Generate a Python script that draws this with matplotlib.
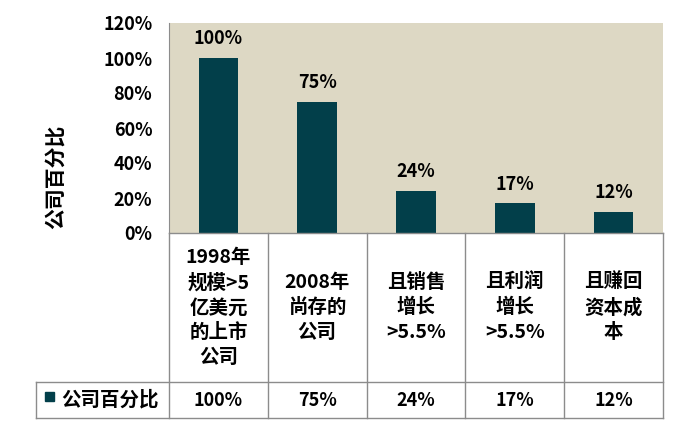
import matplotlib
matplotlib.use("Agg")
import matplotlib.pyplot as plt
import matplotlib.transforms as mtransforms
from matplotlib.patches import Rectangle

plt.rcParams['font.family'] = ['Noto Sans CJK SC', 'DejaVu Sans']
plt.rcParams['font.weight'] = 'bold'

# data
categories = ['1998年\n规模>5\n亿美元\n的上市\n公司', '2008年\n尚存的\n公司',
              '且销售\n增长\n>5.5%', '且利润\n增长\n>5.5%', '且赚回\n资本成\n本']
values = [100, 75, 24, 17, 12]
series_name = '公司百分比'
yticks = [0, 20, 40, 60, 80, 100, 120]

bar_color = '#023f4a'
bg_color = '#ddd8c4'
line_color = '#8c8c8c'

W, H = 687, 430
fig = plt.figure(figsize=(W / 100, H / 100), dpi=100)

def fy(py):
    # pixel row (from top) -> figure fraction
    return 1 - py / H

ax_left, ax_right = 169 / W, 663 / W
ax_top, ax_bot = fy(23), fy(233)
ax = fig.add_axes([ax_left, ax_bot, ax_right - ax_left, ax_top - ax_bot])
ax.set_facecolor(bg_color)

x = list(range(len(values)))
ax.bar(x, values, width=0.4, color=bar_color)
for xi, v in zip(x, values):
    ax.annotate(f'{v}%', (xi, v), xytext=(0, 7), textcoords='offset points',
                ha='center', va='bottom', fontsize=13, fontweight='bold')

ax.set_xlim(-0.5, len(values) - 0.5)
ax.set_ylim(0, 120)
ax.set_yticks(yticks)
ax.set_yticklabels([f'{t}%' for t in yticks], fontsize=13, fontweight='bold')
ax.tick_params(axis='y', length=0, pad=12)
ax.set_xticks([])
for s in ['top', 'right', 'bottom']:
    ax.spines[s].set_visible(False)
ax.spines['left'].set_color(line_color)

fig.text(55 / W, fy(177), series_name, rotation=90, ha='center', va='center',
         fontsize=15, fontweight='bold')

# data table below the plot
tr = mtransforms.blended_transform_factory(ax.transData, fig.transFigure)
row1_top, row1_bot, row2_bot = fy(233), fy(382), fy(418)
n = len(values)
lw = 1.0
# horizontal lines across category columns
fig.add_artist(plt.Line2D([-0.5, n - 0.5], [row1_top, row1_top], transform=tr,
                          color=line_color, lw=lw))
fig.add_artist(plt.Line2D([36 / W, ax_right], [row1_bot, row1_bot],
                          transform=fig.transFigure, color=line_color, lw=lw))
fig.add_artist(plt.Line2D([36 / W, ax_right], [row2_bot, row2_bot],
                          transform=fig.transFigure, color=line_color, lw=lw))
fig.add_artist(plt.Line2D([36 / W, 36 / W], [row1_bot, row2_bot],
                          transform=fig.transFigure, color=line_color, lw=lw))
for i in range(n + 1):
    fig.add_artist(plt.Line2D([i - 0.5, i - 0.5], [row1_top, row2_bot],
                              transform=tr, color=line_color, lw=lw))

for xi, c, v in zip(x, categories, values):
    fig.text(xi, (row1_top + row1_bot) / 2, c, transform=tr, ha='center',
             va='center', fontsize=14, fontweight='bold', linespacing=1.38)
    fig.text(xi, (row1_bot + row2_bot) / 2, f'{v}%', transform=tr, ha='center',
             va='center', fontsize=13, fontweight='bold')

# legend key
fig.add_artist(Rectangle((45 / W, fy(401)), 9 / W, 9 / H, transform=fig.transFigure,
                         color=bar_color))
fig.text(61 / W, (row1_bot + row2_bot) / 2, series_name, ha='left', va='center',
         fontsize=14, fontweight='bold')

fig.savefig('out.png', dpi=100)
